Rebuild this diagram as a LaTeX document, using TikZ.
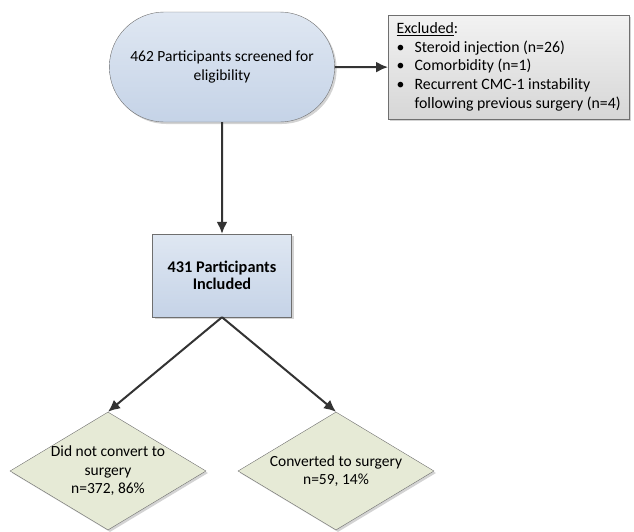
\documentclass[tikz,border=0pt]{standalone}
\usepackage{fontspec}
\setmainfont{Carlito}
\usetikzlibrary{shapes.misc,shapes.geometric,shadows,arrows.meta}

\definecolor{boxline}{HTML}{6F6F6F}
\definecolor{blueA}{HTML}{DFE7F2}
\definecolor{blueB}{HTML}{C5D3E7}
\definecolor{greyA}{HTML}{F2F2F2}
\definecolor{greyB}{HTML}{D6D6D6}
\definecolor{greenA}{HTML}{E6EAD6}
\definecolor{arrowline}{HTML}{333333}

\begin{document}
\begin{tikzpicture}[x=1pt,y=1pt,
    font=\fontsize{15.5}{18.5}\selectfont,
    shade/.style={drop shadow={opacity=0.35,shadow xshift=2pt,shadow yshift=-2pt}},
    bluebox/.style={draw=boxline, top color=blueA, bottom color=blueB, shade},
    greybox/.style={draw=boxline, top color=greyA, bottom color=greyB, shade},
    choice/.style={shape=diamond, draw=boxline, fill=greenA, shade, aspect=1.65,
        minimum width=196pt, minimum height=118pt, inner sep=-6pt, align=center},
    arr/.style={-{Latex[length=12pt,width=11pt]}, draw=arrowline, line width=2pt}]
    \useasboundingbox (0,0) rectangle (634,-531);

    \node[shape=rounded rectangle, bluebox, minimum width=232pt, minimum height=110pt, align=center] (screen) at (222,-67) {462 Participants screened for\\eligibility};
    \node[shape=rectangle, greybox, anchor=north west, minimum width=241pt, minimum height=104pt, inner xsep=7.5pt, inner ysep=5pt, font=\fontsize{15.8}{18.7}\selectfont] (excl) at (388,-15) {%
        \begin{tabular}{@{}l@{\hspace{10pt}}l@{}}
            \multicolumn{2}{@{}l}{\underline{Excluded}:}\\
            \textbullet & Steroid injection (n=26)\\
            \textbullet & Comorbidity (n=1)\\
            \textbullet & Recurrent CMC-1 instability\\
                        & following previous surgery (n=4)
        \end{tabular}};
    \node[shape=rectangle, bluebox, minimum width=139pt, minimum height=83pt, align=center, font=\fontsize{16.3}{17.5}\selectfont\bfseries] (incl) at (222,-275.5) {431 Participants\\Included};
    \node[choice] (noconv) at (108,-471) {Did not convert to\\surgery\\n=372, 86\%};
    \node[choice] (conv) at (336,-471) {Converted to surgery\\n=59, 14\%};

    \draw[arr] (screen) -- (excl);
    \draw[arr] (screen) -- (incl);
    \draw[arr] (incl.south) -- (noconv.north);
    \draw[arr] (incl.south) -- (conv.north);

\end{tikzpicture}
\end{document}
